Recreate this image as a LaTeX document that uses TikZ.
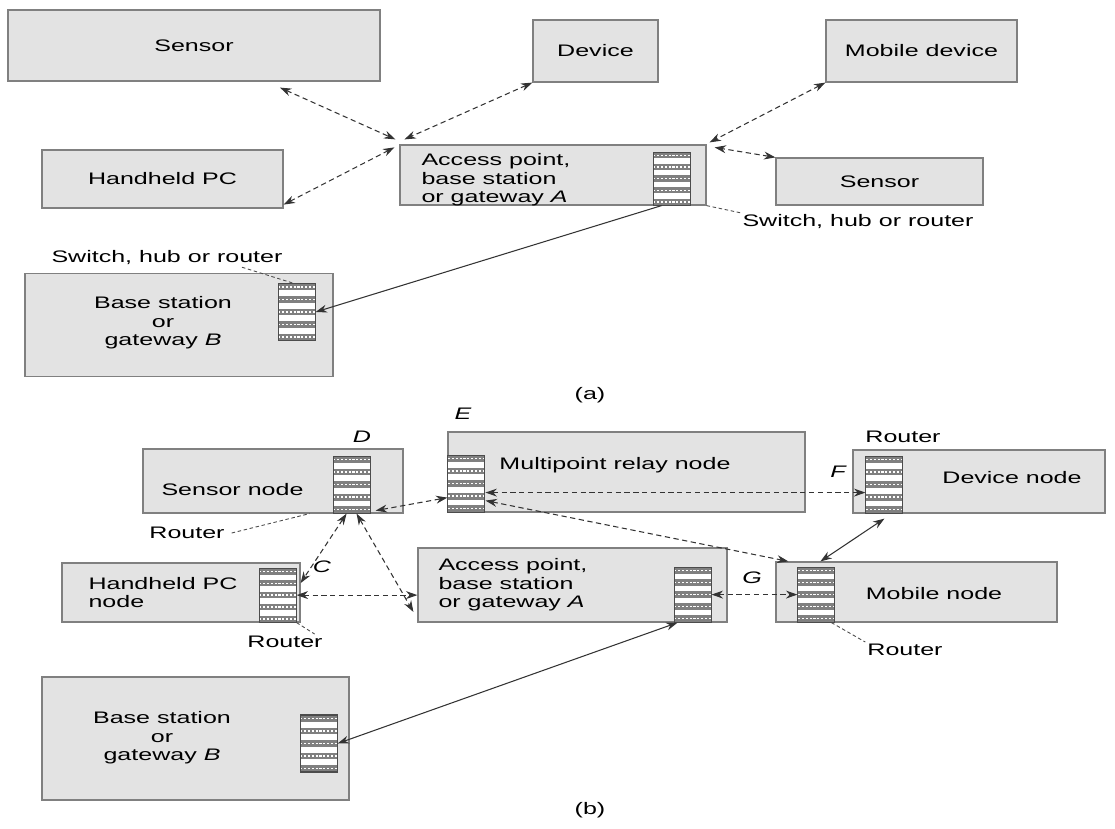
\documentclass[tikz,border=0pt]{standalone}
\usepackage{fontspec}
\setmainfont{Liberation Sans}[FakeStretch=1.5]
\usepackage{tikz}
\usetikzlibrary{arrows.meta,positioning,calc}
\newcommand{\figfont}{\fontsize{9.5}{10.5}\selectfont}

\begin{document}
\begin{tikzpicture}[
    x=0.02cm, y=-0.02cm,
    box/.style={rectangle, draw=black!50, fill=black!11, line width=0.7pt, inner sep=0pt, font=\figfont, align=center},
    txt/.style={font=\figfont, align=left, inner sep=1pt},
    tag/.style={font=\figfont\itshape, inner sep=1pt},
    router/.style={rectangle, draw=black!70, fill=white, line width=0.6pt, minimum width=0.74cm, minimum height=1.14cm, inner sep=0pt,
        path picture={\foreach \k in {0,...,4}{
            \fill[black!50]
              ($(path picture bounding box.north west)!{\k*0.22}!(path picture bounding box.south west)$)
              rectangle ($(path picture bounding box.north east)!{\k*0.22+0.12}!(path picture bounding box.south east)$);
            \draw[white, line width=0.8pt, dash pattern=on 1.2pt off 1pt]
              ($(path picture bounding box.north west)!{\k*0.22+0.06}!(path picture bounding box.south west)$)
              -- ($(path picture bounding box.north east)!{\k*0.22+0.06}!(path picture bounding box.south east)$);}}},
    link/.style={<->, >={Stealth[length=6.5pt,width=4.5pt]}, dash pattern=on 3pt off 2pt, draw=black!80, line width=0.6pt},
    wire/.style={>={Stealth[length=6.5pt,width=4.5pt]}, draw=black!80, line width=0.6pt},
    leader/.style={dash pattern=on 2pt off 1.5pt, draw=black!70, line width=0.5pt}
]
\useasboundingbox (0,0) rectangle (1115,828);

% (a) access point with devices
\node [box, minimum width=7.44cm, minimum height=1.42cm] (sensA) at (194,45.5) {Sensor};
\node [box, minimum width=2.5cm, minimum height=1.24cm] (devA) at (595.5,51) {Device};
\node [box, minimum width=3.82cm, minimum height=1.24cm] (mobA) at (921.5,51) {Mobile device};
\node [box, minimum width=4.82cm, minimum height=1.16cm] (hpcA) at (162.5,179) {Handheld PC};
\node [box, minimum width=6.12cm, minimum height=1.2cm] (apA) at (553,175) {};
\node [txt, right=0.4cm of apA.west, yshift=-0.1cm] (apAt) {Access point,\\base station\\or gateway \textit{A}};
\node [router, anchor=south east, minimum height=1.06cm] (rAa) at ([xshift=-0.32cm]apA.south east) {};
\node [box, minimum width=4.14cm, minimum height=0.94cm] (senA2) at (879.5,181.5) {Sensor};
\node [txt] (swRa) at (858,222) {Switch, hub or router};

\node [txt] (swLa) at (167,258) {Switch, hub or router};
\node [box, minimum width=6.16cm, minimum height=2.06cm] (bsA) at (179,325) {};
\node [txt, align=center] (bsAt) at (163,323) {Base station\\or\\gateway \textit{B}};
\node [router, anchor=east] (rBa) at ([shift={(-0.36cm,0.26cm)}]bsA.east) {};

\node [txt] (capA) at (590,395) {(a)};

% Arrows (a)
\draw [link] ([shift={(1.72cm,-0.12cm)}]sensA.south) -- ([shift={(-0.08cm,0.1cm)}]apA.north west);
\draw [link] (devA.south west) -- ([shift={(0.1cm,0.1cm)}]apA.north west);
\draw [link] ([yshift=0.08cm]hpcA.south east) -- ([shift={(-0.1cm,-0.06cm)}]apA.north west);
\draw [link] (mobA.south west) -- ([shift={(0.06cm,0.04cm)}]apA.north east);
\draw [link] (senA2.north west) -- ([shift={(0.16cm,-0.06cm)}]apA.north east);
\draw [wire, ->] ([xshift=-0.2cm]rAa.south) -- (rBa.east);
\draw [leader] (apA.south east) -- (swRa.north west);
\draw [leader] ([xshift=1.5cm]swLa.south) -- ([xshift=0.3cm]rBa.north west);

% (b) mesh of routing nodes
\node [box, minimum width=5.2cm, minimum height=1.28cm] (senN) at (273,481) {};
\node [txt, right=0.34cm of senN.west, yshift=-0.18cm] (senNt) {Sensor node};
\node [router, anchor=south east] (rD) at ([xshift=-0.66cm]senN.south east) {};
\node [tag] (tD) at (362,437) {D};
\node [txt] (rtD) at (187,533) {Router};

\node [box, minimum width=7.14cm, minimum height=1.6cm] (mprN) at (626.5,472) {};
\node [txt] (mprNt) at (615,465) {Multipoint relay node};
\node [router, anchor=south west] (rE) at (mprN.south west) {};
\node [tag] (tE) at (463,414) {E};

\node [box, minimum width=5.04cm, minimum height=1.26cm] (devN) at (979,481.5) {};
\node [txt] (devNt) at (1012,478) {Device node};
\node [router, anchor=south west] (rF) at ([xshift=0.26cm]devN.south west) {};
\node [txt] (rtF) at (903,437) {Router};
\node [tag] (tF) at (838,472) {F};

\node [box, minimum width=4.76cm, minimum height=1.18cm] (hpcN) at (181,592.5) {};
\node [txt, right=0.5cm of hpcN.west] (hpcNt) {Handheld PC\\node};
\node [router, anchor=south east, minimum height=1.08cm] (rC) at ([xshift=-0.08cm]hpcN.south east) {};
\node [tag] (tC) at (322,567) {C};
\node [txt] (rtC) at (285,642) {Router};

\node [box, minimum width=6.18cm, minimum height=1.48cm] (apN) at (572.5,585) {};
\node [txt, right=0.38cm of apN.west] (apNt) {Access point,\\base station\\or gateway \textit{A}};
\node [router, anchor=south east, minimum height=1.1cm] (rAb) at ([xshift=-0.32cm]apN.south east) {};

\node [box, minimum width=5.62cm, minimum height=1.2cm] (mobN) at (916.5,592) {};
\node [txt] (mobNt) at (934,594) {Mobile node};
\node [router, anchor=south west, minimum height=1.1cm] (rG) at ([xshift=0.44cm]mobN.south west) {};
\node [tag] (tG) at (752,578) {G};
\node [txt] (rtG) at (905,650) {Router};

\node [box, minimum width=6.14cm, minimum height=2.46cm] (bsN) at (195.5,738.5) {};
\node [txt, align=center] (bsNt) at (162,738) {Base station\\or\\gateway \textit{B}};
\node [router, anchor=east] (rBb) at ([shift={(-0.24cm,-0.1cm)}]bsN.east) {};

\node [txt] (capB) at (590,810) {(b)};

% Arrows (b)
\coordinate (eF) at ([yshift=-0.18cm]rE.east);
\draw [link] ([shift={(0.1cm,0.06cm)}]rD.south east) -- ([yshift=0.3cm]rE.south west);
\draw [link] ([xshift=-0.1cm]rD.south) -- ([shift={(0.08cm,0.24cm)}]rC.east);
\draw [link] ([xshift=0.1cm]rD.south) -- ([shift={(-0.08cm,-0.54cm)}]apN.west);
\draw [link] (rC.east) -- (rC.east -| apN.west);
\draw [link] (eF) -- (eF -| rF.west);
\draw [link] ([yshift=-0.34cm]rE.east) -- ([xshift=0.26cm]mobN.north west);
\draw [wire, <->] ([yshift=-0.1cm]rF.south) -- ([xshift=0.9cm]mobN.north west);
\draw [link] (rAb.east) -- (rAb.east -| rG.west);
\draw [wire, <->] ([xshift=-0.3cm]rAb.south) -- (rBb.east);

\draw [leader] ([xshift=0.1cm]rtD.east) -- ([xshift=-0.46cm]rD.south west);
\draw [leader] (rC.south east) -- ([xshift=-0.2cm]rtC.north east);
\draw [leader] ([xshift=0.3cm]rG.south) -- (rtG.north west);

\end{tikzpicture}
\end{document}
